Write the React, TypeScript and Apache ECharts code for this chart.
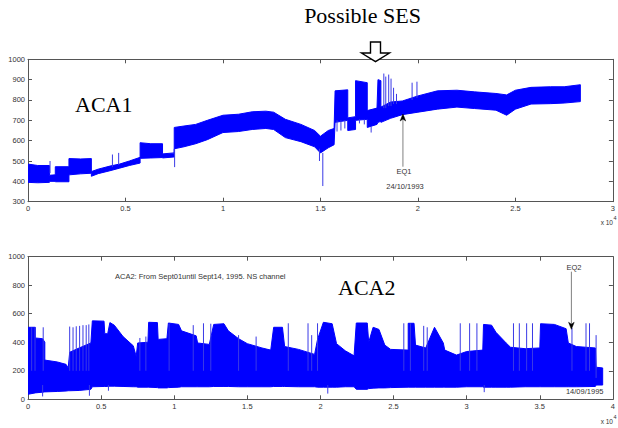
import React, { useEffect, useRef } from "react";
import * as echarts from "echarts";

// ---------- ACA1 (top panel): envelope of the signal, x in units of 1e4 samples ----------
const aca1X = [0.0, 0.05, 0.11, 0.11, 0.14, 0.14, 0.21, 0.21, 0.27, 0.325, 0.325, 0.36, 0.42, 0.47, 0.52, 0.575, 0.575, 0.63, 0.69, 0.69, 0.75, 0.75, 0.8, 0.86, 0.92, 1.0, 1.08, 1.15, 1.22, 1.26, 1.32, 1.4, 1.47, 1.5, 1.54, 1.57, 1.575, 1.64, 1.64, 1.68, 1.68, 1.74, 1.74, 1.79, 1.795, 1.81, 1.81, 1.86, 1.92, 2.0, 2.1, 2.2, 2.29, 2.4, 2.455, 2.5, 2.58, 2.68, 2.75, 2.833];
const aca1Low = [395, 393, 395, 400, 400, 398, 398, 432, 437, 440, 425, 438, 452, 465, 478, 490, 513, 515, 517, 515, 520, 560, 570, 585, 605, 640, 645, 655, 660, 655, 615, 595, 570, 540, 565, 580, 690, 700, 650, 655, 700, 705, 665, 680, 690, 695, 690, 710, 728, 740, 755, 765, 758, 750, 725, 755, 780, 782, 785, 792];
const aca1High = [485, 478, 478, 430, 432, 472, 472, 512, 510, 512, 448, 460, 475, 485, 500, 518, 590, 585, 585, 535, 540, 665, 672, 680, 700, 725, 730, 742, 745, 740, 705, 680, 650, 622, 650, 660, 845, 850, 712, 718, 895, 885, 748, 760, 900, 895, 765, 790, 795, 820, 845, 848, 840, 832, 825, 848, 862, 865, 865, 875];
// isolated spikes of ACA1
const aca1SpikeX = [0.113, 0.433, 0.465, 0.752, 1.495, 1.512, 1.585, 1.605, 1.625, 1.7, 1.725, 1.76, 1.825, 1.835, 1.85, 1.862, 1.875, 1.89, 1.97, 1.995];
const aca1SpikeFrom = [440, 470, 480, 560, 560, 540, 700, 700, 700, 705, 705, 670, 760, 760, 770, 770, 780, 780, 800, 810];
const aca1SpikeTo = [500, 532, 540, 470, 500, 377, 645, 650, 660, 685, 680, 640, 930, 915, 925, 905, 860, 830, 885, 890];

// ---------- ACA2 (bottom panel) ----------
const aca2X = [0.0, 0.05, 0.05, 0.1, 0.115, 0.115, 0.2, 0.26, 0.275, 0.285, 0.35, 0.43, 0.44, 0.52, 0.525, 0.545, 0.56, 0.59, 0.65, 0.72, 0.74, 0.75, 0.82, 0.825, 0.885, 0.89, 0.95, 0.96, 1.03, 1.05, 1.15, 1.16, 1.24, 1.27, 1.34, 1.37, 1.44, 1.5, 1.6, 1.66, 1.68, 1.74, 1.755, 1.85, 1.96, 1.98, 2.02, 2.08, 2.11, 2.17, 2.23, 2.245, 2.32, 2.33, 2.36, 2.4, 2.44, 2.48, 2.6, 2.6, 2.64, 2.65, 2.72, 2.78, 2.84, 2.85, 2.93, 3.0, 3.11, 3.115, 3.17, 3.2, 3.27, 3.3, 3.4, 3.5, 3.505, 3.6, 3.68, 3.695, 3.75, 3.88, 3.885, 3.93];
const aca2Low = [35, 45, 45, 50, 52, 52, 55, 58, 60, 60, 62, 70, 88, 90, 90, 90, 92, 92, 90, 88, 88, 85, 85, 85, 82, 80, 80, 82, 85, 88, 88, 88, 88, 90, 90, 90, 88, 88, 88, 88, 90, 90, 90, 88, 88, 85, 85, 85, 85, 88, 88, 70, 70, 75, 78, 80, 80, 82, 85, 85, 85, 85, 85, 85, 85, 85, 85, 88, 88, 85, 85, 85, 85, 85, 88, 88, 88, 88, 88, 88, 88, 90, 100, 100];
const aca2High = [505, 505, 430, 425, 400, 275, 262, 245, 220, 330, 360, 395, 550, 548, 460, 460, 538, 520, 440, 375, 300, 395, 400, 540, 538, 420, 425, 535, 525, 480, 445, 395, 385, 525, 530, 480, 425, 390, 360, 345, 505, 505, 370, 350, 315, 420, 540, 530, 390, 340, 305, 535, 535, 400, 505, 490, 380, 350, 345, 533, 533, 380, 360, 505, 395, 345, 310, 335, 345, 525, 520, 470, 395, 365, 355, 360, 530, 525, 495, 395, 370, 360, 225, 220];
// isolated spikes of ACA2
const aca2SpikeX = [0.025, 0.048, 0.104, 0.285, 0.308, 0.33, 0.353, 0.376, 0.398, 0.416, 0.765, 0.806, 0.965, 1.13, 1.2, 1.25, 1.44, 1.56, 1.78, 1.915, 1.94, 1.98, 2.57, 2.615, 2.706, 2.73, 2.956, 3.02, 3.07, 3.32, 3.36, 3.41, 3.45, 3.72, 3.816, 3.84, 3.885, 0.1, 0.42, 0.55, 2.05, 3.12];
const aca2SpikeFrom = [200, 200, 200, 200, 200, 200, 200, 200, 200, 200, 200, 200, 200, 200, 200, 200, 200, 200, 200, 200, 200, 200, 200, 200, 200, 200, 200, 200, 200, 200, 200, 200, 200, 200, 200, 200, 150, 100, 100, 100, 100, 100];
const aca2SpikeTo = [505, 505, 505, 510, 505, 512, 515, 520, 520, 525, 430, 440, 530, 520, 533, 530, 450, 440, 533, 533, 450, 533, 533, 533, 515, 505, 533, 533, 533, 533, 533, 533, 533, 500, 533, 533, 450, 20, 25, 60, 40, 50];

// ---------- annotations (x, from, to) ----------
const eq1Arrow = [1.923, 472, 731];
const eq2Arrow = [3.716, 895, 491];

// ---------- axis ticks ----------
const aca1XTicks = { min: 0, max: 3, interval: 0.5 };
const aca1YTicks = { min: 300, max: 1000, interval: 100 };
const aca2XTicks = { min: 0, max: 4, interval: 0.5 };
const aca2YTicks = { min: 0, max: 1000, interval: 200 };

const BLUE = "#0000ff";
const SPIKE = "#3a3ae6";
const AXIS = "#555555";
const LABEL = "#333333";
const SANS = "'Liberation Sans', Arial, sans-serif";
const SERIF = "'Liberation Serif', 'Times New Roman', serif";

function envelopeSeries(xs: number[], lo: number[], hi: number[], axisIndex: number) {
  const data = xs.map((x, i) => [x, lo[i], hi[i]]);
  return {
    type: "custom",
    xAxisIndex: axisIndex,
    yAxisIndex: axisIndex,
    clip: true,
    encode: { x: [0], y: [1, 2] },
    data,
    renderItem: (params: any, api: any) => {
      if (params.dataIndex !== 0) return null;
      const pts: number[][] = [];
      for (let i = 0; i < xs.length; i++) pts.push(api.coord([xs[i], lo[i]]));
      for (let i = xs.length - 1; i >= 0; i--) pts.push(api.coord([xs[i], hi[i]]));
      return {
        type: "polygon",
        shape: { points: pts },
        style: { fill: BLUE, stroke: BLUE, lineWidth: 1, lineJoin: "round" },
      };
    },
  };
}

function spikeSeries(xs: number[], from: number[], to: number[], axisIndex: number) {
  return {
    type: "custom",
    xAxisIndex: axisIndex,
    yAxisIndex: axisIndex,
    clip: true,
    encode: { x: [0], y: [1, 2] },
    data: xs.map((x, i) => [x, from[i], to[i]]),
    renderItem: (params: any, api: any) => {
      const a = api.coord([api.value(0), api.value(1)]);
      const b = api.coord([api.value(0), api.value(2)]);
      return {
        type: "line",
        shape: { x1: a[0], y1: a[1], x2: b[0], y2: b[1] },
        style: { stroke: SPIKE, lineWidth: 1 },
      };
    },
  };
}

function arrowSeries(arrow: number[], axisIndex: number) {
  return {
    type: "custom",
    xAxisIndex: axisIndex,
    yAxisIndex: axisIndex,
    z: 5,
    encode: { x: [0], y: [1, 2] },
    data: [arrow],
    renderItem: (params: any, api: any) => {
      const a = api.coord([api.value(0), api.value(1)]);
      const b = api.coord([api.value(0), api.value(2)]);
      const dir = b[1] < a[1] ? 1 : -1;
      return {
        type: "group",
        children: [
          {
            type: "line",
            shape: { x1: a[0], y1: a[1], x2: b[0], y2: b[1] + dir * 5 },
            style: { stroke: "#808080", lineWidth: 1 },
          },
          {
            type: "polygon",
            shape: {
              points: [
                [b[0], b[1]],
                [b[0] - 2.8, b[1] + dir * 7],
                [b[0], b[1] + dir * 5],
                [b[0] + 2.8, b[1] + dir * 7],
              ],
            },
            style: { fill: "#000", stroke: "#000", lineWidth: 0.5 },
          },
        ],
      };
    },
  };
}

const fmt = (v: number) => String(v);

function xAxes(gridIndex: number, t: any) {
  const common = {
    gridIndex,
    type: "value",
    min: t.min,
    max: t.max,
    interval: t.interval,
    splitLine: { show: false },
    axisLine: { show: true, onZero: false, lineStyle: { color: AXIS, width: 1 } },
    axisTick: { show: true, inside: true, length: 4, lineStyle: { color: AXIS } },
  };
  return [
    {
      ...common,
      position: "bottom",
      axisLabel: { color: LABEL, fontFamily: SANS, fontSize: 7.5, margin: 3, formatter: fmt },
    },
    { ...common, position: "top", axisLabel: { show: false } },
  ];
}

function yAxes(gridIndex: number, t: any) {
  const common = {
    gridIndex,
    type: "value",
    min: t.min,
    max: t.max,
    interval: t.interval,
    splitLine: { show: false },
    axisLine: { show: true, onZero: false, lineStyle: { color: AXIS, width: 1 } },
    axisTick: { show: true, inside: true, length: 4, lineStyle: { color: AXIS } },
  };
  return [
    {
      ...common,
      position: "left",
      axisLabel: { color: LABEL, fontFamily: SANS, fontSize: 7.5, margin: 3, formatter: fmt },
    },
    { ...common, position: "right", axisLabel: { show: false } },
  ];
}

function txt(text: string, x: number, y: number, opts: any = {}) {
  return {
    type: "text",
    x,
    y,
    z: 100,
    style: {
      text,
      fill: opts.fill || LABEL,
      fontFamily: opts.family || SANS,
      fontSize: opts.size || 7.5,
      textAlign: opts.align || "center",
      textVerticalAlign: "middle",
    },
  };
}

export default function App() {
  const ref = useRef<HTMLDivElement>(null);

  useEffect(() => {
    if (!ref.current) return;
    const chart = echarts.init(ref.current, undefined, { renderer: "svg" });
    const option: any = {
      animation: false,
      backgroundColor: "#ffffff",
      grid: [
        { left: 28, right: 1.5, top: 59.3, height: 142.4 },
        { left: 28, right: 1.5, top: 256.7, height: 142.6 },
      ],
      xAxis: [...xAxes(0, aca1XTicks), ...xAxes(1, aca2XTicks)],
      yAxis: [...yAxes(0, aca1YTicks), ...yAxes(1, aca2YTicks)],
      series: [
        envelopeSeries(aca1X, aca1Low, aca1High, 0),
        spikeSeries(aca1SpikeX, aca1SpikeFrom, aca1SpikeTo, 0),
        arrowSeries(eq1Arrow, 0),
        envelopeSeries(aca2X, aca2Low, aca2High, 2),
        spikeSeries(aca2SpikeX, aca2SpikeFrom, aca2SpikeTo, 2),
        arrowSeries(eq2Arrow, 2),
      ],
      graphic: [
        txt("Possible SES", 362.5, 15.3, { family: SERIF, size: 22, fill: "#000" }),
        {
          type: "polygon",
          z: 100,
          shape: {
            points: [
              [370.5, 42],
              [380.5, 42],
              [380.5, 53],
              [389.5, 53],
              [375.5, 61.7],
              [361.5, 53],
              [370.5, 53],
            ],
          },
          style: { fill: "#fff", stroke: "#000", lineWidth: 1.4 },
        },
        txt("ACA1", 75, 104.3, { family: SERIF, size: 22, fill: "#000", align: "left" }),
        txt("ACA2", 338, 287.6, { family: SERIF, size: 22, fill: "#000", align: "left" }),
        txt("EQ1", 404, 171.7),
        txt("24/10/1993", 405, 186.7),
        txt("ACA2: From Sept01until Sept14, 1995. NS channel", 115, 276, { align: "left" }),
        txt("EQ2", 574, 267.3),
        txt("14/09/1995", 584.7, 391.7),
        txt("x 10", 613, 222.5, { align: "right", size: 6.5 }),
        txt("4", 613.5, 217.8, { align: "left", size: 5.5 }),
        txt("x 10", 613, 421.7, { align: "right", size: 6.5 }),
        txt("4", 613.5, 417, { align: "left", size: 5.5 }),
      ],
    };
    chart.setOption(option);
    return () => chart.dispose();
  }, []);

  return (
    <div
      ref={ref}
      style={{ position: "absolute", left: 0, top: 0, width: 618, height: 428, background: "#fff" }}
    />
  );
}
